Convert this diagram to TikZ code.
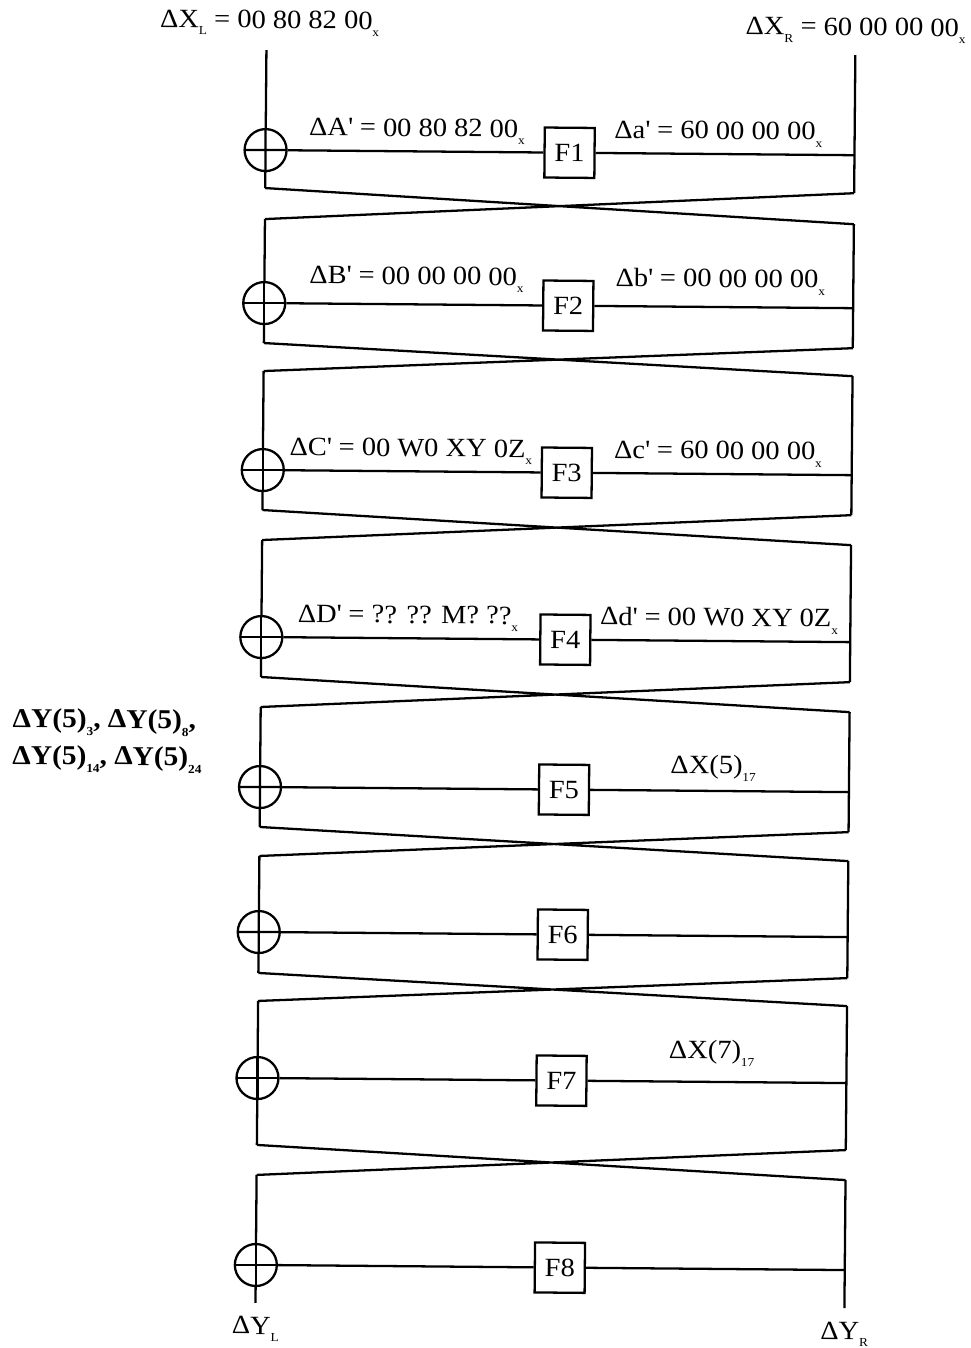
\documentclass[tikz,border=0pt]{standalone}
\usepackage{fontspec}
\setmainfont[FakeStretch=1.08]{Liberation Serif}
\usetikzlibrary{positioning}
\newcommand{\dsub}[1]{\raisebox{-0.6ex}{\scriptsize #1}}
\newcommand{\pr}{\textquotesingle}

\begin{document}
\begin{tikzpicture}[x=0.02cm,y=-0.02cm,line width=1.3pt,
  xorgate/.style={circle,draw,minimum size=0.84cm,inner sep=0pt,
    path picture={\draw (path picture bounding box.north) -- (path picture bounding box.south)
      (path picture bounding box.west) -- (path picture bounding box.east);}},
  fbox/.style={draw,minimum size=1cm,inner sep=0pt,font=\fontsize{15}{15}\selectfont},
  lbl/.style={font=\fontsize{15}{15}\selectfont,inner sep=0pt}]
\useasboundingbox (0,0) rectangle (970,1348); % --- page size of the reference

\begin{scope}[rotate around={-0.5:(485,674)},transform shape]
% --- eight rounds: number / top / line / bottom
\foreach \i/\yt/\yl/\yb in {1/52/152/190,2/221/305/345,3/373/472/512,4/542/639/679,
                           5/709/789/829,6/858/934/975,7/1003/1080/1147,8/1177/1267/1305}{
  \node[xorgate] (x\i) at (261,\yl) {};
  \node[fbox] (f\i) at (565,\yl) {F\i};
  \coordinate (tl\i) at (261,\yt); \coordinate (bl\i) at (261,\yb);
  \coordinate (tr\i) at (850,\yt); \coordinate (br\i) at (850,\yb);
  \coordinate (r\i) at (850,\yl);
  \draw (tl\i) -- (x\i.north) (x\i.south) -- (bl\i); % left branch
  \draw (x\i) -- (f\i) -- (r\i);                      % round function line
  \draw (tr\i) -- (br\i);                             % right branch
}
% --- swap of the halves between rounds
\foreach \i [evaluate=\i as \j using int(\i+1)] in {1,...,7}{
  \draw (bl\i) -- (tr\j) (br\i) -- (tl\j);
}

% --- input and output differences
\node[lbl] (dxl) at (264,25) {ΔX\dsub{L} = 00 80 82 00\dsub{x}};
\node[lbl] (dxr) at (850,27) {ΔX\dsub{R} = 60 00 00 00\dsub{x}};
\node[lbl] (dyl) at (261,1331) {ΔY\dsub{L}};
\node[lbl] (dyr) at (850,1331) {ΔY\dsub{R}};

% --- differences on the round lines
\node[lbl,anchor=base east] (la) at ([xshift=-0.35cm,yshift=0.3cm]f1.west) {ΔA\pr{} = 00 80 82 00\dsub{x}};
\node[lbl,anchor=base west] (ra) at ([xshift=0.35cm,yshift=0.3cm]f1.east) {Δa\pr{} = 60 00 00 00\dsub{x}};
\node[lbl,anchor=base east] (lb) at ([xshift=-0.35cm,yshift=0.4cm]f2.west) {ΔB\pr{} = 00 00 00 00\dsub{x}};
\node[lbl,anchor=base west] (rb) at ([xshift=0.4cm,yshift=0.4cm]f2.east) {Δb\pr{} = 00 00 00 00\dsub{x}};
\node[lbl,anchor=base east] (lc) at ([xshift=-0.15cm,yshift=0.3cm]f3.west) {ΔC\pr{} = 00 W0 XY 0Z\dsub{x}};
\node[lbl,anchor=base west] (rc) at ([xshift=0.4cm,yshift=0.3cm]f3.east) {Δc\pr{} = 60 00 00 00\dsub{x}};
\node[lbl,anchor=base east] (ld) at ([xshift=-0.4cm,yshift=0.3cm]f4.west) {ΔD\pr{} = ?? ?? M? ??\dsub{x}};
\node[lbl,anchor=base west] (rd) at ([xshift=0.15cm,yshift=0.3cm]f4.east) {Δd\pr{} = 00 W0 XY 0Z\dsub{x}};
\node[lbl] (x5) at (714,766) {ΔX(5)\dsub{17}};
\node[lbl] (x7) at (715,1051) {ΔX(7)\dsub{17}};

% --- bytes of round 5 output
\node[lbl,font=\bfseries\fontsize{15.5}{21}\selectfont,align=left,anchor=west] (y5) at (12,744)
  {ΔY(5)\dsub{3}, ΔY(5)\dsub{8},\\ΔY(5)\dsub{14}, ΔY(5)\dsub{24}};
\end{scope}
\end{tikzpicture}
\end{document}
